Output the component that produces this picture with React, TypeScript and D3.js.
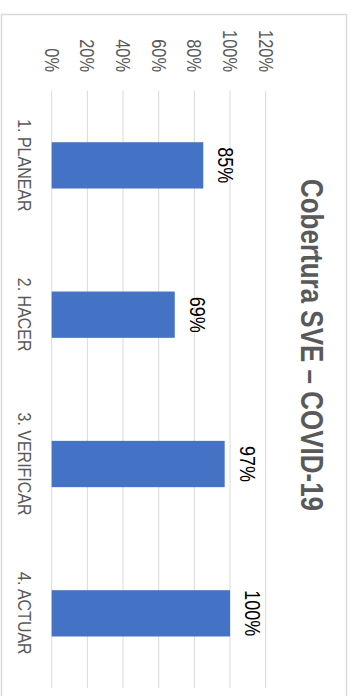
import { useMemo } from "react";
import * as d3 from "d3";

// Chart data
const categories = ["1. PLANEAR", "2. HACER", "3. VERIFICAR", "4. ACTUAR"];
const coverage = [0.85, 0.69, 0.97, 1.0];
const tickValues = [0, 0.2, 0.4, 0.6, 0.8, 1.0, 1.2];
const title = "Cobertura SVE – COVID-19";

const WIDTH = 353;
const HEIGHT = 696;
// glyphs in the picture are stretched across the page, so text gets a little extra height
const STRETCH = 1.2;
const FONT = "'Liberation Sans', Arial, sans-serif";

// text that reads top to bottom (chart is turned a quarter turn clockwise)
function turned(x: number, y: number) {
  return `translate(${x},${y}) rotate(90) scale(1,${STRETCH})`;
}

export default function App() {
  const x = useMemo(
    () => d3.scaleLinear().domain([0, 1.2]).range([51.7, 265.7]),
    []
  );
  const y = useMemo(
    () =>
      d3.scaleBand<string>()
        .domain(categories)
        .range([90.7, 688])
        .paddingInner(0.69)
        .paddingOuter(0.345),
    []
  );
  const pct = d3.format(".0%");
  const rows = categories.map((c, i) => ({ cat: c, value: coverage[i] }));

  return (
    <svg
      width={WIDTH}
      height={HEIGHT}
      style={{ position: "absolute", left: 0, top: 0, background: "#fff" }}
    >
      {/* chart area border */}
      <rect x={1.5} y={14.5} width={345} height={700} fill="#fff" stroke="#d9d9d9" strokeWidth={1.5} />

      {/* gridlines */}
      {tickValues.map(t => (
        <line key={t} x1={x(t)} x2={x(t)} y1={y.range()[0]} y2={y.range()[1]} stroke="#d9d9d9" strokeWidth={1} />
      ))}

      {/* value axis labels */}
      {tickValues.map(t => (
        <text
          key={"t" + t}
          transform={turned(x(t) - 7.1, 72)}
          textAnchor="end"
          fontFamily={FONT}
          fontSize={16.4}
          fill="#595959"
        >
          {pct(t)}
        </text>
      ))}

      {/* bars */}
      {rows.map(d => (
        <rect
          key={d.cat}
          x={x(0)}
          y={y(d.cat)!}
          width={x(d.value) - x(0)}
          height={y.bandwidth()}
          fill="#4472c4"
        />
      ))}

      {/* data labels */}
      {rows.map(d => (
        <text
          key={"l" + d.cat}
          transform={turned(x(d.value) + 15, y(d.cat)! + y.bandwidth() / 2)}
          textAnchor="middle"
          fontFamily={FONT}
          fontSize={18}
          fill="#000"
        >
          {pct(d.value)}
        </text>
      ))}

      {/* category labels */}
      {rows.map(d => (
        <text
          key={"c" + d.cat}
          transform={turned(18.3, y(d.cat)! + y.bandwidth() / 2)}
          textAnchor="middle"
          fontFamily={FONT}
          fontSize={16}
          fill="#595959"
        >
          {d.cat}
        </text>
      ))}

      {/* title */}
      <text
        transform={turned(300.5, 345)}
        textAnchor="middle"
        fontFamily={FONT}
        fontWeight="bold"
        fontSize={26}
        fill="#595959"
      >
        {title}
      </text>
    </svg>
  );
}
